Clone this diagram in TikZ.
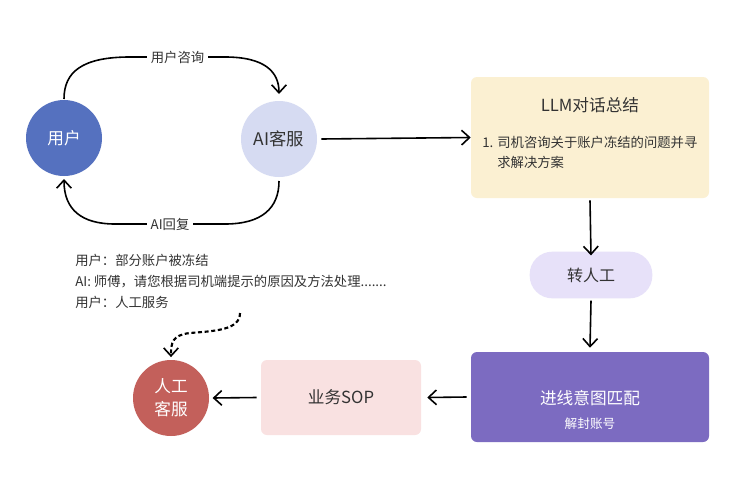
\documentclass[tikz,border=0pt]{standalone}
\usepackage{fontspec}
\setmainfont{Noto Sans CJK SC}
\usetikzlibrary{arrows.meta}
\definecolor{userblue}{HTML}{5571BF}
\definecolor{ailav}{HTML}{D6DBF2}
\definecolor{llmyel}{HTML}{FBF0D2}
\definecolor{pilllav}{HTML}{E7E1F9}
\definecolor{purp}{HTML}{7C6BC1}
\definecolor{soppink}{HTML}{F9E1E1}
\definecolor{kfred}{HTML}{C3605B}
\definecolor{txt}{HTML}{333333}
\tikzset{
  px/.style={x=0.75pt,y=-0.75pt},
  tip/.style={-{Straight Barb[length=6pt,width=11pt,line width=1.2pt]}},
  conn/.style={draw=black, line width=1.2pt, tip},
  circ/.style={circle, minimum size=57pt, inner sep=0pt, align=center},
  box/.style={rectangle, rounded corners=4.5pt, inner sep=0pt},
  lbl/.style={font=\fontsize{10}{12}\selectfont, text=txt, fill=white, inner sep=3pt},
}
\begin{document}
\begin{tikzpicture}[px]
\useasboundingbox[fill=white] (0,0) rectangle (750,500);
% circles
\node[circ, fill=userblue, text=white, font=\fontsize{12.5}{14}\selectfont] (user) at (64,138) {用户};
\node[circ, fill=ailav, text=txt, font=\fontsize{13}{15}\selectfont] (ai) at (279,139) {AI客服};
\node[circ, fill=kfred, text=white, font=\fontsize{12.5}{17}\selectfont] (kf) at (171,398) {人工\\客服};
% boxes
\node[box, fill=llmyel, minimum width=178.5pt, minimum height=90.75pt] (llm) at (590,137.5) {};
\node[font=\fontsize{12.5}{14}\selectfont, text=txt] (llmt) at (590,105) {LLM对话总结};
\node[anchor=west, align=left, font=\fontsize{10}{15}\selectfont, text=txt, inner sep=0pt] (llmi) at (482,152) {1. 司机咨询关于账户冻结的问题并寻\\\phantom{1. }求解决方案};
\node[rectangle, rounded corners=17pt, fill=pilllav, minimum width=92pt, minimum height=35pt, inner sep=0pt, text=txt, font=\fontsize{12}{14}\selectfont] (zrg) at (591,275) {转人工};
\node[box, fill=purp, minimum width=178.5pt, minimum height=67.5pt] (match) at (590,397) {};
\node[text=white, font=\fontsize{12.5}{14}\selectfont] (matcht) at (590,398) {进线意图匹配};
\node[text=white, font=\fontsize{9.5}{11}\selectfont] (matchs) at (590,424) {解封账号};
\node[box, fill=soppink, minimum width=120pt, minimum height=56.25pt, text=txt, font=\fontsize{12.5}{14}\selectfont] (sop) at (341,397.5) {业务SOP};
% dialog text
\node[anchor=west, align=left, font=\fontsize{10}{15.75}\selectfont, text=txt, inner sep=0pt] (dlg) at (75,281) {用户：部分账户被冻结\\AI: 师傅，请您根据司机端提示的原因及方法处理.......\\用户：人工服务};
% connectors
\coordinate (ts) at (64,99);
\coordinate (te) at (279,94);
\draw[conn] (ts) .. controls (64,72) and (82,57) .. (130,57) -- node[lbl, pos=0.5] (lq) {用户咨询} (225,57) .. controls (265,57) and (279,72) .. (te);
\coordinate (bs) at (279,181);
\coordinate (be) at (64,179);
\draw[conn] (bs) .. controls (279,208) and (262,224) .. (225,224) -- node[lbl, pos=0.5] (la) {AI回复} (115,224) .. controls (82,224) and (64,210) .. (be);
\draw[conn] (ai.east) ++(4,0) coordinate (ae) -- (llm.west);
\draw[conn] (llm.south) ++(0,2) -- ([yshift=-3pt]zrg.north);
\draw[conn] (zrg.south) ++(0,2) -- ([yshift=3pt]match.north);
\draw[conn] ([xshift=-3pt]match.west) -- ([xshift=4.5pt]sop.east);
\draw[conn] ([xshift=-3pt]sop.west) -- ([xshift=2.5pt]kf.east);
\coordinate (ds) at (240,313);
\draw[line width=1.6pt, dash pattern=on 3pt off 2pt, tip] (ds) .. controls (240,330) and (215,331) .. (190,333) .. controls (172,335) and (171,343) .. ([yshift=2pt]kf.north);
\end{tikzpicture}
\end{document}
